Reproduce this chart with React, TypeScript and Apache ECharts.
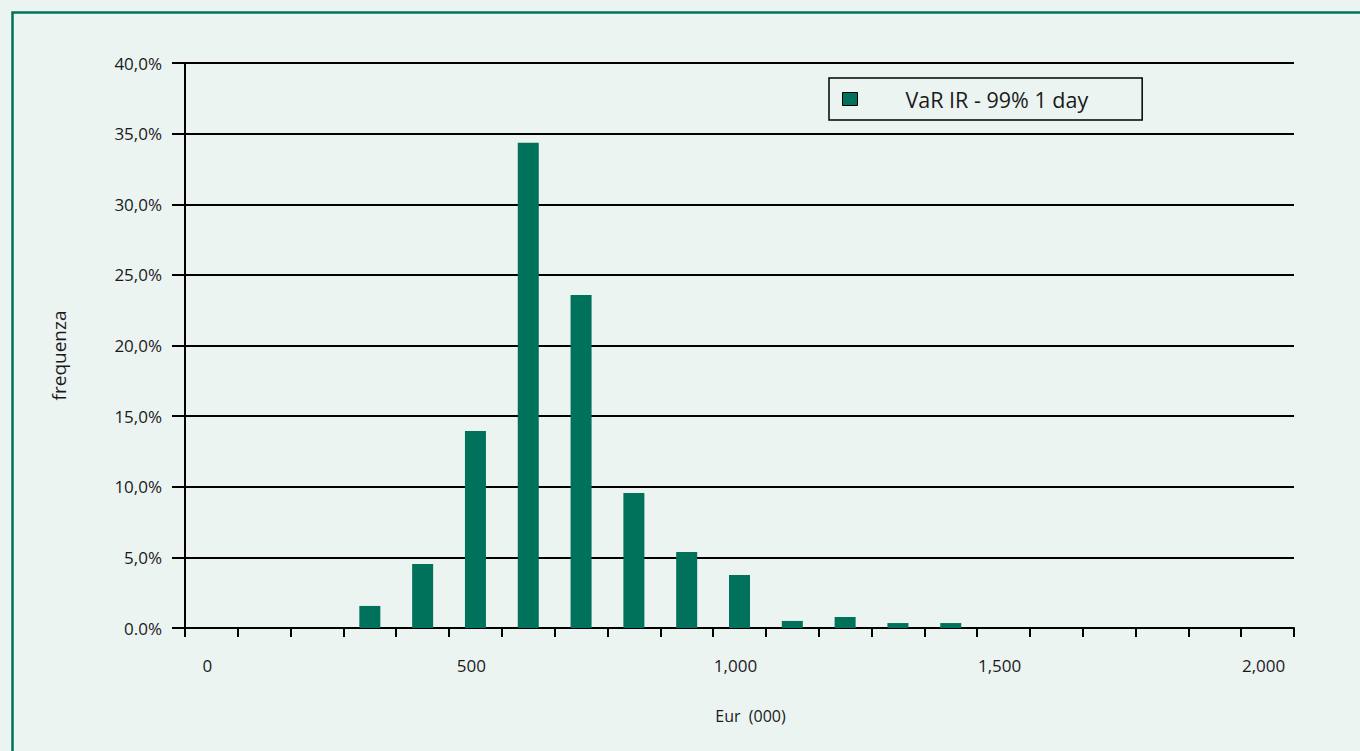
import React, { useEffect, useRef } from "react";
import * as echarts from "echarts";

const categories: number[] = [0, 100, 200, 300, 400, 500, 600, 700, 800, 900, 1000, 1100, 1200, 1300, 1400, 1500, 1600, 1700, 1800, 1900, 2000];
const frequency: number[] = [0, 0, 0, 1.56, 4.53, 13.95, 34.35, 23.58, 9.56, 5.38, 3.75, 0.5, 0.78, 0.35, 0.35, 0, 0, 0, 0, 0, 0];
const seriesName = "VaR IR - 99% 1 day";
const xAxisTitle = "Eur  (000)";
const yAxisTitle = "frequenza";

const GREEN = "#00715A";
const BG = "#ECF4F2";
const FONT = "Open Sans";

export default function App() {
  const ref = useRef<HTMLDivElement>(null);
  useEffect(() => {
    if (!ref.current) return;
    const chart = echarts.init(ref.current, undefined, { renderer: "svg" });
    chart.setOption({
      animation: false,
      backgroundColor: BG,
      textStyle: { fontFamily: FONT, color: "#1a1a1a" },
      graphic: [
        {
          type: "rect",
          shape: { x: 12.5, y: 12.5, width: 1400, height: 800 },
          style: { fill: "none", stroke: GREEN, lineWidth: 2.5 },
          silent: true,
        },
      ],
      legend: {
        left: 829,
        top: 78,
        padding: [10, 54, 10, 13],
        borderColor: "#000",
        borderWidth: 1.5,
        backgroundColor: BG,
        itemWidth: 15,
        itemHeight: 13,
        icon: "rect",
        itemStyle: { borderColor: "#000", borderWidth: 1 },
        textStyle: { fontFamily: FONT, fontSize: 21.5, color: "#1a1a1a", padding: [0, 0, 0, 43], lineHeight: 14 },
        data: [seriesName],
      },
      grid: { left: 185, right: 66, top: 63, bottom: 123, containLabel: false },
      xAxis: {
        type: "category",
        data: categories.map(String),
        name: xAxisTitle,
        nameLocation: "middle",
        nameGap: 80,
        nameTextStyle: { fontFamily: FONT, fontSize: 16, color: "#1a1a1a", padding: [0, 0, 0, 22] },
        axisLine: { show: true, lineStyle: { color: "#000", width: 2 } },
        axisTick: { show: true, interval: 0, length: 9, lineStyle: { color: "#000", width: 2 } },
        axisLabel: {
          interval: 4,
          margin: 29,
          fontFamily: FONT,
          fontSize: 17,
          color: "#1a1a1a",
          padding: [0, 8, 0, 0],
          formatter: (v: string) => Number(v).toLocaleString("en-US"),
        },
        splitLine: { show: false },
      },
      yAxis: {
        type: "value",
        min: 0,
        max: 40,
        interval: 5,
        name: yAxisTitle,
        nameLocation: "middle",
        nameGap: 117,
        nameTextStyle: { fontFamily: FONT, fontSize: 19, color: "#1a1a1a", padding: [0, 20, 0, 0] },
        axisLine: { show: true, lineStyle: { color: "#000", width: 2 } },
        axisTick: { show: true, length: 13, lineStyle: { color: "#000", width: 2 } },
        axisLabel: {
          margin: 23,
          fontFamily: FONT,
          fontSize: 17,
          color: "#1a1a1a",
          formatter: (v: number) => (v === 0 ? "0.0%" : v.toFixed(1).replace(".", ",") + "%"),
        },
        splitLine: { show: true, lineStyle: { color: "#000", width: 2 } },
      },
      series: [
        {
          name: seriesName,
          type: "bar",
          data: frequency,
          barWidth: 21,
          itemStyle: { color: GREEN },
        },
      ],
    });
    return () => chart.dispose();
  }, []);
  return (
    <div
      ref={ref}
      style={{ position: "fixed", left: 0, top: 0, width: 1360, height: 751 }}
    />
  );
}
